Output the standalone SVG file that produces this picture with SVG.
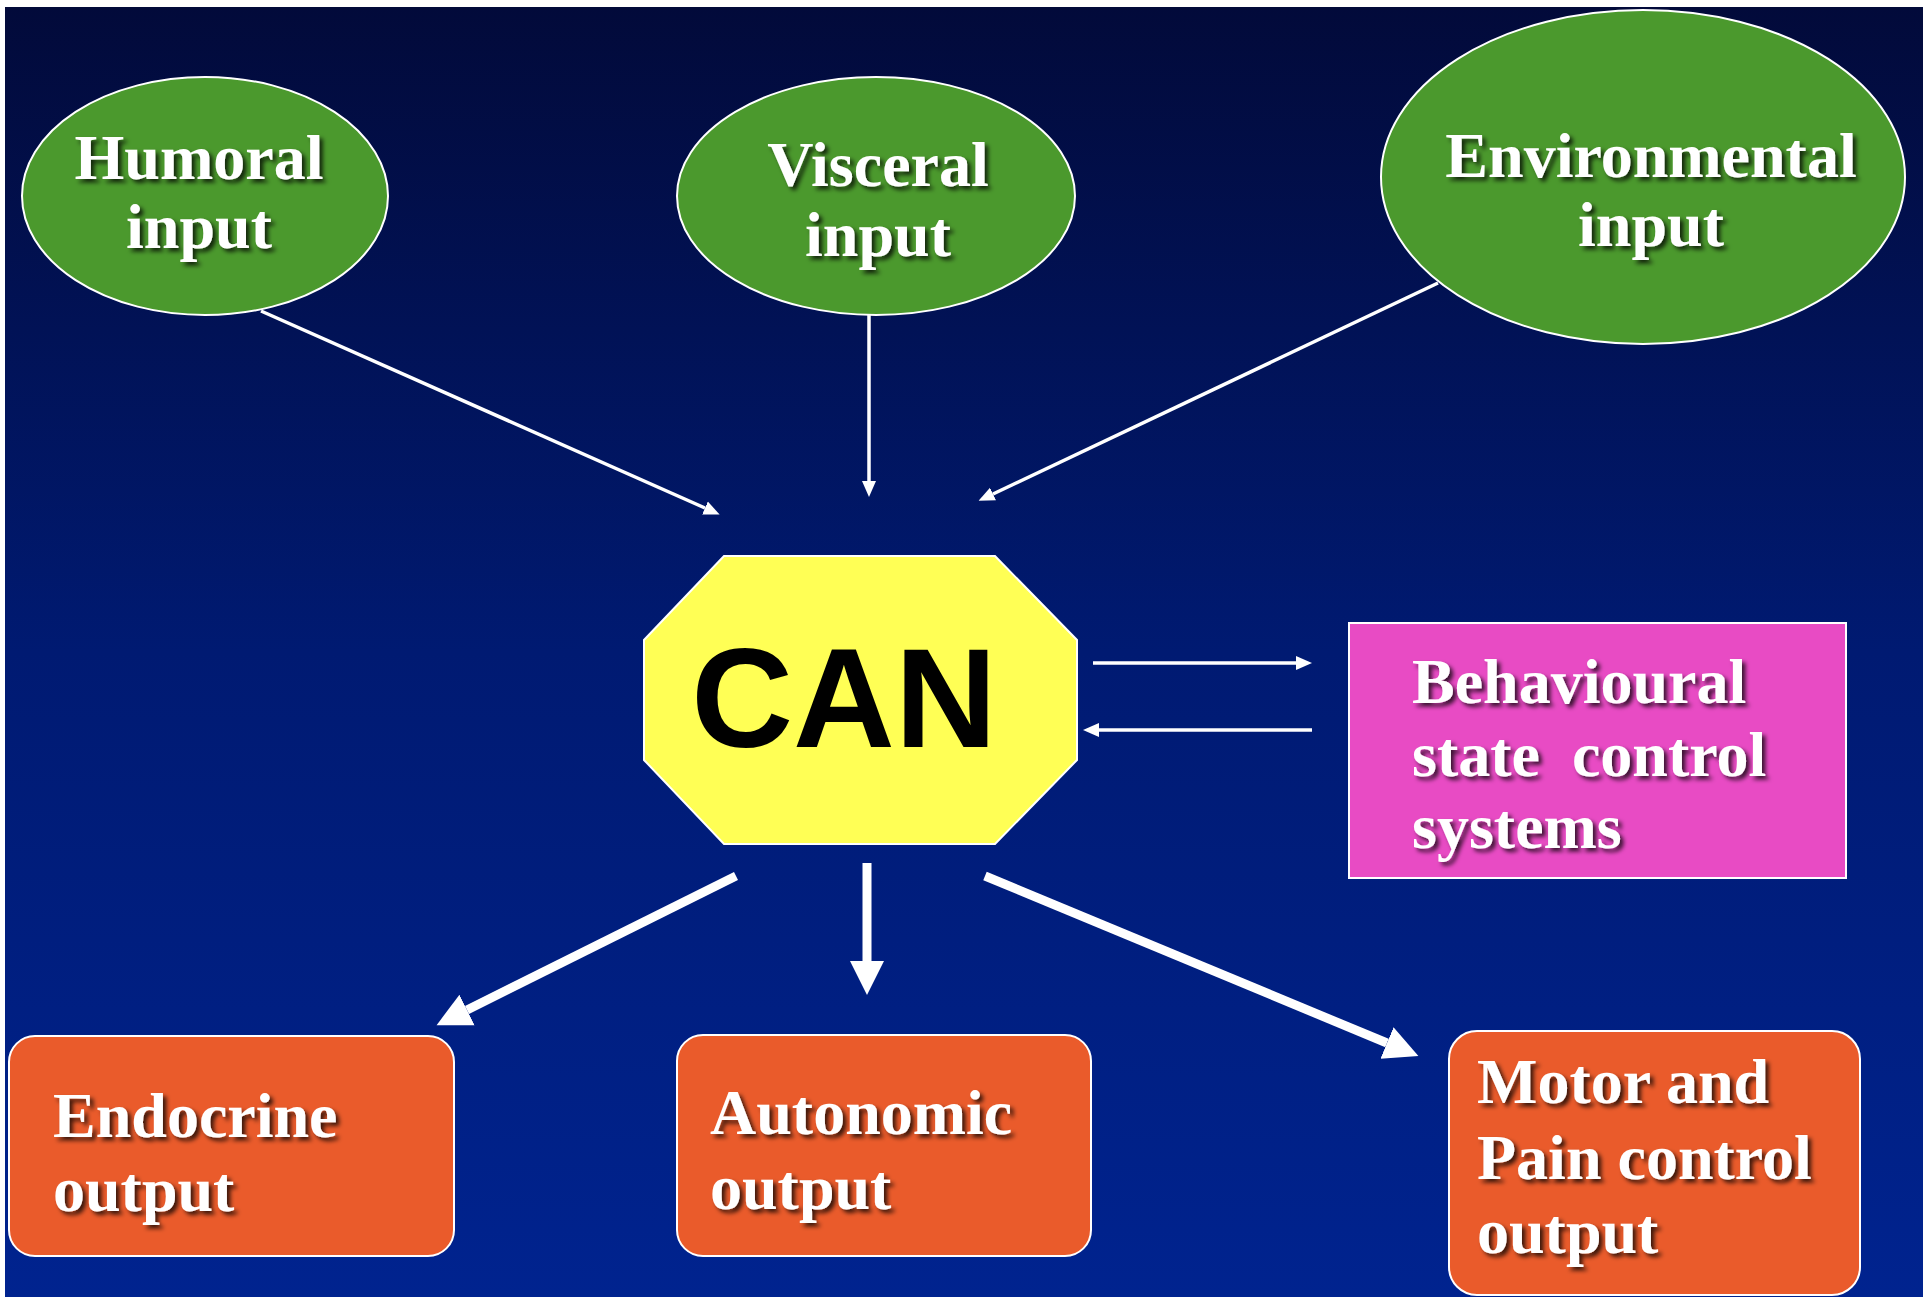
<svg xmlns="http://www.w3.org/2000/svg" width="1930" height="1297" viewBox="0 0 1930 1297">
<defs>
<linearGradient id="bg" x1="0" y1="0" x2="0" y2="1">
<stop offset="0" stop-color="#020a3a"/>
<stop offset="0.5" stop-color="#001a72"/>
<stop offset="1" stop-color="#00238f"/>
</linearGradient>
<filter id="sh" x="-10%" y="-20%" width="120%" height="140%">
<feDropShadow dx="3.5" dy="3.5" stdDeviation="2" flood-color="#000" flood-opacity="0.75"/>
</filter>
<marker id="thin" markerUnits="userSpaceOnUse" viewBox="0 -10 20 20" refX="0" refY="0" markerWidth="20" markerHeight="20" orient="auto">
<path d="M0,-7 L16,0 L0,7 z" fill="#fff"/>
</marker>
<marker id="thick" markerUnits="userSpaceOnUse" viewBox="0 -20 40 40" refX="0" refY="0" markerWidth="40" markerHeight="40" orient="auto">
<path d="M0,-17 L34,0 L0,17 z" fill="#fff"/>
</marker>
</defs>
<style>
.lbl{font-family:"Liberation Serif","Times New Roman",serif;font-weight:bold;font-size:64px;fill:#fff;filter:url(#sh)}
.ell{fill:#4b992d;stroke:#fff;stroke-width:2}
.box{fill:#ea5b2b;stroke:#fff;stroke-width:2}
.thin{stroke:#fff;stroke-width:3.5;fill:none;marker-end:url(#thin)}
.thick{stroke:#fff;stroke-width:9;fill:none;marker-end:url(#thick)}
</style>
<rect x="0" y="0" width="1930" height="1297" fill="#fff"/>
<rect x="5" y="7" width="1918" height="1290" fill="url(#bg)"/>

<g id="connectors">
<line class="thin" x1="261" y1="311" x2="705" y2="508"/>
<line class="thin" x1="869" y1="315" x2="869" y2="481"/>
<line class="thin" x1="1438" y1="283" x2="993" y2="494"/>
<line class="thin" x1="1093" y1="663" x2="1296" y2="663"/>
<line class="thin" x1="1312" y1="730" x2="1099" y2="730"/>
<line class="thick" x1="736" y1="876" x2="467" y2="1010"/>
<line class="thick" x1="867" y1="863" x2="867" y2="961"/>
<line class="thick" x1="985" y1="876" x2="1387" y2="1043"/>
</g>

<g id="humoral">
<ellipse class="ell" cx="205" cy="196" rx="183" ry="119"/>
<text class="lbl" x="199" y="179" text-anchor="middle">Humoral</text>
<text class="lbl" x="199" y="248" text-anchor="middle">input</text>
</g>

<g id="visceral">
<ellipse class="ell" cx="876" cy="196" rx="199" ry="119"/>
<text class="lbl" x="878" y="186" text-anchor="middle">Visceral</text>
<text class="lbl" x="878" y="256" text-anchor="middle">input</text>
</g>

<g id="environmental">
<ellipse class="ell" cx="1643" cy="177" rx="262" ry="167"/>
<text class="lbl" x="1651" y="177" text-anchor="middle">Environmental</text>
<text class="lbl" x="1651" y="246" text-anchor="middle">input</text>
</g>

<g id="can">
<polygon points="724,556 995,556 1077,640 1077,760 995,844 724,844 644,760 644,640" fill="#ffff55" stroke="#fff" stroke-width="2"/>
<text x="844" y="747" text-anchor="middle" font-family="Liberation Sans, Arial, sans-serif" font-weight="bold" font-size="141" fill="#000">CAN</text>
</g>

<g id="behavioural">
<rect x="1349" y="623" width="497" height="255" fill="#e84bc4" stroke="#fff" stroke-width="2"/>
<text class="lbl" x="1412" y="703">Behavioural</text>
<text class="lbl" x="1412" y="776" xml:space="preserve">state  control</text>
<text class="lbl" x="1412" y="848">systems</text>
</g>

<g id="endocrine">
<rect class="box" x="9" y="1036" width="445" height="220" rx="26"/>
<text class="lbl" x="53" y="1137">Endocrine</text>
<text class="lbl" x="53" y="1211">output</text>
</g>

<g id="autonomic">
<rect class="box" x="677" y="1035" width="414" height="221" rx="26"/>
<text class="lbl" x="710" y="1134">Autonomic</text>
<text class="lbl" x="710" y="1209">output</text>
</g>

<g id="motor">
<rect class="box" x="1449" y="1031" width="411" height="264" rx="28"/>
<text class="lbl" x="1477" y="1103">Motor and</text>
<text class="lbl" x="1477" y="1179">Pain control</text>
<text class="lbl" x="1477" y="1253">output</text>
</g>
</svg>
